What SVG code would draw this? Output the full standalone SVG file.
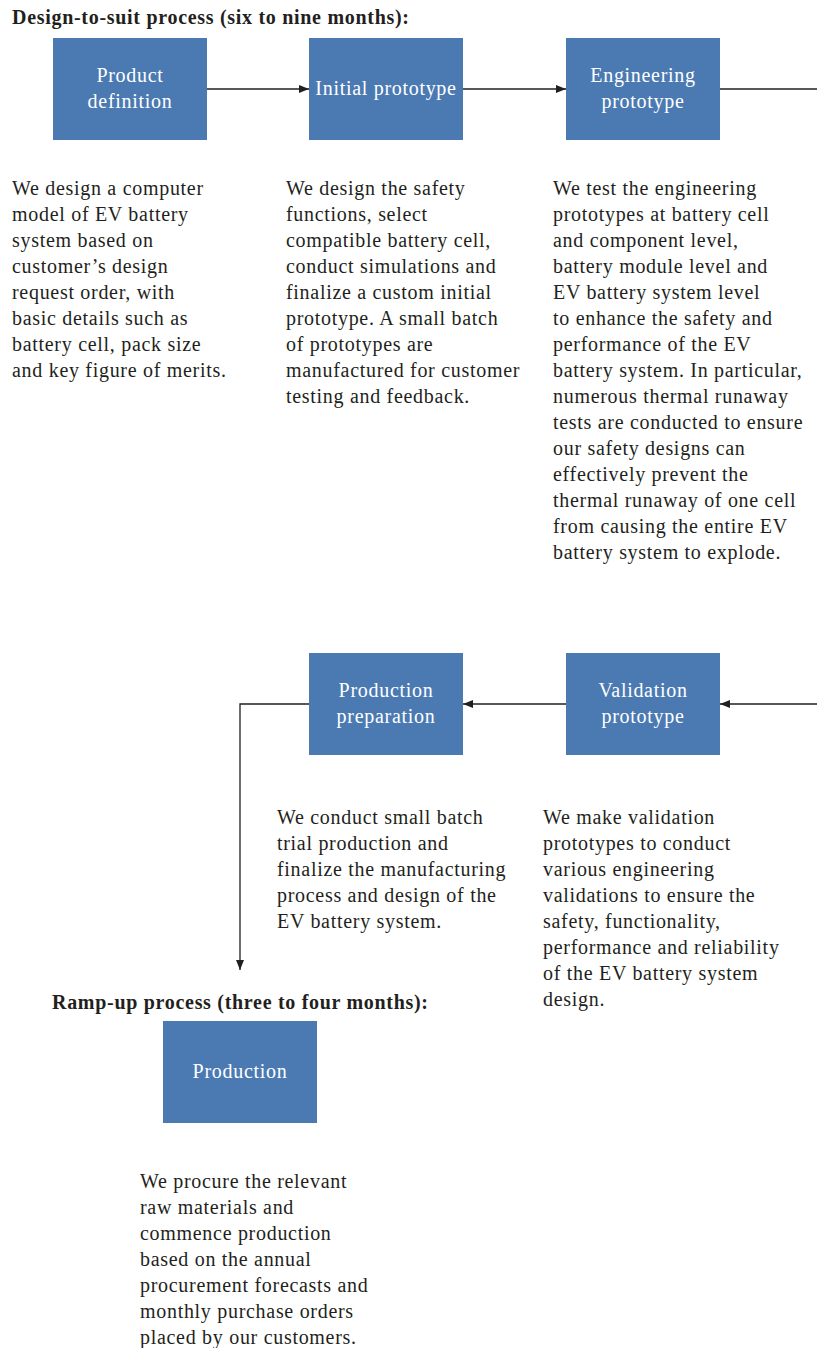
<svg xmlns="http://www.w3.org/2000/svg" width="817" height="1348" viewBox="0 0 817 1348">
<style>
.box{fill:#4b7ab2}
.lbl{font-family:"Liberation Serif","Times New Roman",serif;font-size:20px;letter-spacing:0.7px;fill:#ffffff;text-anchor:middle}
.body{font-family:"Liberation Serif","Times New Roman",serif;font-size:20px;letter-spacing:0.7px;fill:#231f20}
.hdr{font-family:"Liberation Serif","Times New Roman",serif;font-size:20px;letter-spacing:0.7px;font-weight:bold;fill:#231f20}
.con{stroke:#231f20;stroke-width:1.3;fill:none}
</style>
<defs>
<marker id="ah" viewBox="0 0 10 10" refX="10" refY="5" markerWidth="10" markerHeight="10" markerUnits="userSpaceOnUse" orient="auto">
<path d="M0,1 L10,5 L0,9 Z" fill="#231f20"/>
</marker>
</defs>
<rect width="817" height="1348" fill="#ffffff"/>
<text class="hdr" x="12" y="24">Design-to-suit process (six to nine months):</text>
<text class="hdr" x="52" y="1009">Ramp-up process (three to four months):</text>
<g id="connectors">
<line class="con" x1="207" y1="89" x2="309" y2="89" marker-end="url(#ah)"/>
<line class="con" x1="463" y1="89" x2="566" y2="89" marker-end="url(#ah)"/>
<line class="con" x1="720" y1="89" x2="817" y2="89"/>
<line class="con" x1="817" y1="704" x2="720" y2="704" marker-end="url(#ah)"/>
<line class="con" x1="566" y1="704" x2="463" y2="704" marker-end="url(#ah)"/>
<polyline class="con" points="309,704 240,704 240,970" marker-end="url(#ah)"/>
</g>
<g id="product-definition">
<rect class="box" x="53" y="38" width="154" height="102"/>
<text class="lbl" x="130" y="82">Product</text>
<text class="lbl" x="130" y="108">definition</text>
<text class="body"><tspan x="12" y="195">We design a computer</tspan><tspan x="12" y="221">model of EV battery</tspan><tspan x="12" y="247">system based on</tspan><tspan x="12" y="273">customer’s design</tspan><tspan x="12" y="299">request order, with</tspan><tspan x="12" y="325">basic details such as</tspan><tspan x="12" y="351">battery cell, pack size</tspan><tspan x="12" y="377">and key figure of merits.</tspan></text>
</g>
<g id="initial-prototype">
<rect class="box" x="309" y="38" width="154" height="102"/>
<text class="lbl" x="386" y="95">Initial prototype</text>
<text class="body"><tspan x="286" y="195">We design the safety</tspan><tspan x="286" y="221">functions, select</tspan><tspan x="286" y="247">compatible battery cell,</tspan><tspan x="286" y="273">conduct simulations and</tspan><tspan x="286" y="299">finalize a custom initial</tspan><tspan x="286" y="325">prototype. A small batch</tspan><tspan x="286" y="351">of prototypes are</tspan><tspan x="286" y="377">manufactured for customer</tspan><tspan x="286" y="403">testing and feedback.</tspan></text>
</g>
<g id="engineering-prototype">
<rect class="box" x="566" y="38" width="154" height="102"/>
<text class="lbl" x="643" y="82">Engineering</text>
<text class="lbl" x="643" y="108">prototype</text>
<text class="body"><tspan x="553" y="195">We test the engineering</tspan><tspan x="553" y="221">prototypes at battery cell</tspan><tspan x="553" y="247">and component level,</tspan><tspan x="553" y="273">battery module level and</tspan><tspan x="553" y="299">EV battery system level</tspan><tspan x="553" y="325">to enhance the safety and</tspan><tspan x="553" y="351">performance of the EV</tspan><tspan x="553" y="377">battery system. In particular,</tspan><tspan x="553" y="403">numerous thermal runaway</tspan><tspan x="553" y="429">tests are conducted to ensure</tspan><tspan x="553" y="455">our safety designs can</tspan><tspan x="553" y="481">effectively prevent the</tspan><tspan x="553" y="507">thermal runaway of one cell</tspan><tspan x="553" y="533">from causing the entire EV</tspan><tspan x="553" y="559">battery system to explode.</tspan></text>
</g>
<g id="validation-prototype">
<rect class="box" x="566" y="653" width="154" height="102"/>
<text class="lbl" x="643" y="697">Validation</text>
<text class="lbl" x="643" y="723">prototype</text>
<text class="body"><tspan x="543" y="824">We make validation</tspan><tspan x="543" y="850">prototypes to conduct</tspan><tspan x="543" y="876">various engineering</tspan><tspan x="543" y="902">validations to ensure the</tspan><tspan x="543" y="928">safety, functionality,</tspan><tspan x="543" y="954">performance and reliability</tspan><tspan x="543" y="980">of the EV battery system</tspan><tspan x="543" y="1006">design.</tspan></text>
</g>
<g id="production-preparation">
<rect class="box" x="309" y="653" width="154" height="102"/>
<text class="lbl" x="386" y="697">Production</text>
<text class="lbl" x="386" y="723">preparation</text>
<text class="body"><tspan x="277" y="824">We conduct small batch</tspan><tspan x="277" y="850">trial production and</tspan><tspan x="277" y="876">finalize the manufacturing</tspan><tspan x="277" y="902">process and design of the</tspan><tspan x="277" y="928">EV battery system.</tspan></text>
</g>
<g id="production">
<rect class="box" x="163" y="1021" width="154" height="102"/>
<text class="lbl" x="240" y="1078">Production</text>
<text class="body"><tspan x="140" y="1188">We procure the relevant</tspan><tspan x="140" y="1214">raw materials and</tspan><tspan x="140" y="1240">commence production</tspan><tspan x="140" y="1266">based on the annual</tspan><tspan x="140" y="1292">procurement forecasts and</tspan><tspan x="140" y="1318">monthly purchase orders</tspan><tspan x="140" y="1344">placed by our customers.</tspan></text>
</g>
</svg>
